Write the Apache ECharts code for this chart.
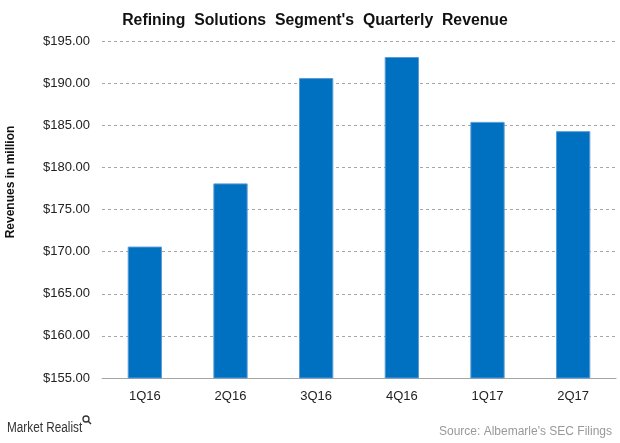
<!DOCTYPE html>
<html><head><meta charset="utf-8">
<script src="https://cdn.jsdelivr.net/npm/echarts@6/dist/echarts.min.js"></script>
<style>html,body{margin:0;padding:0;background:#fff}#c{width:620px;height:443px}</style>
</head><body><div id="c"></div>
<script>
const categories = ['1Q16','2Q16','3Q16','4Q16','1Q17','2Q17'];
const revenues = [170.6, 178.1, 190.6, 193.1, 185.4, 184.3];
const yTicks = {min:155, max:195, interval:5};

const chart = echarts.init(document.getElementById('c'));
chart.setOption({
  animation:false,
  backgroundColor:'#fff',
  title:{
    text:"Refining  Solutions  Segment's  Quarterly  Revenue",
    left:310, textAlign:'center', top:8,
    textStyle:{fontFamily:'Liberation Sans', fontWeight:'bold', fontSize:15.8, color:'#111'}
  },
  graphic:[
    {type:'text', x:11, y:182, rotation:Math.PI/2,
      style:{text:'Revenues in million', fontFamily:'Liberation Sans', fontWeight:'bold', fontSize:12, fill:'#111', align:'center', verticalAlign:'middle'}},
    {type:'text', x:7, y:428, scaleX:0.84,
      style:{text:'Market Realist', fontFamily:'Liberation Sans', fontSize:14, fill:'#333', verticalAlign:'middle'}},
    {type:'circle', shape:{cx:86, cy:419, r:3}, style:{fill:'none', stroke:'#333', lineWidth:1.3}},
    {type:'line', shape:{x1:88, y1:421, x2:91, y2:424}, style:{stroke:'#333', lineWidth:1.5}},
    {type:'text', right:8, top:426, style:{text:"Source: Albemarle's SEC Filings", fontFamily:'Liberation Sans', fontSize:12, fill:'#999'}}
  ],
  grid:{left:102, right:4, top:41, bottom:65},
  xAxis:{
    type:'category', data:categories,
    axisLine:{lineStyle:{color:'#a6a6a6'}},
    axisTick:{show:false},
    axisLabel:{fontFamily:'Liberation Sans', fontSize:13, color:'#222', margin:12}
  },
  yAxis:{
    type:'value', min:yTicks.min, max:yTicks.max, interval:yTicks.interval,
    axisLine:{show:false}, axisTick:{show:false},
    axisLabel:{fontFamily:'Liberation Sans', fontSize:13, color:'#222', margin:12,
      formatter:v=>'$'+v.toFixed(2)},
    splitLine:{lineStyle:{color:'#a6a6a6', type:[3,3]}}
  },
  series:[{
    type:'bar', data:revenues, barWidth:'40%',
    itemStyle:{color:'#0070c0', borderColor:'#5a9ad6', borderWidth:1}
  }]
});
</script></body></html>
